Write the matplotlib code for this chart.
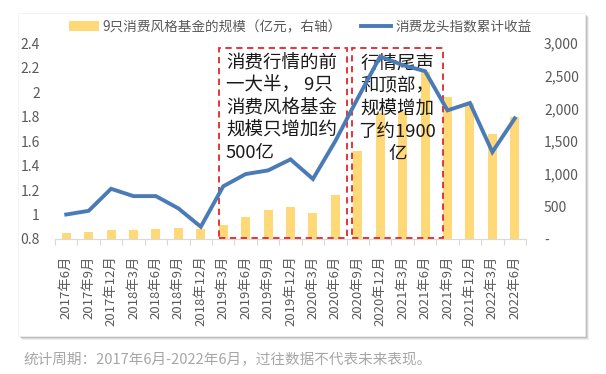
import numpy as np
import matplotlib
matplotlib.use('Agg')
import matplotlib.pyplot as plt
from matplotlib.patches import Rectangle, Patch
from matplotlib.lines import Line2D
from matplotlib.ticker import FuncFormatter, FixedLocator

plt.rcParams['font.family'] = ['Noto Sans CJK SC', 'DejaVu Sans']

# 数据
dates = ['2017年6月', '2017年9月', '2017年12月', '2018年3月', '2018年6月',
         '2018年9月', '2018年12月', '2019年3月', '2019年6月', '2019年9月',
         '2019年12月', '2020年3月', '2020年6月', '2020年9月', '2020年12月',
         '2021年3月', '2021年6月', '2021年9月', '2021年12月', '2022年3月',
         '2022年6月']
fund_size = [97, 107, 138, 143, 158, 173, 158, 219, 337, 444, 490, 403,
             666, 1345, 1930, 1950, 2560, 2168, 2086, 1610, 1870]
index_return = [1.00, 1.03, 1.21, 1.15, 1.15, 1.05, 0.90, 1.23, 1.33, 1.36,
                1.45, 1.29, 1.60, 1.95, 2.29, 2.22, 2.17, 1.85, 1.91, 1.51,
                1.785]

label_bar = '9只消费风格基金的规模（亿元，右轴）'
label_line = '消费龙头指数累计收益'
note1 = '消费行情的前\n一大半， 9只\n消费风格基金\n规模只增加约\n500亿'
note2 = '行情尾声\n和顶部，\n规模增加\n了约1900\n亿'
footnote = '统计周期：2017年6月-2022年6月，过往数据不代表未来表现。'

bar_color = '#ffd978'
line_color = '#4a7bb7'
red = '#e3262b'
grey = '#595959'

W, H = 606, 374
fig = plt.figure(figsize=(W / 100, H / 100), dpi=100)
fig.patch.set_facecolor('white')

# 图表外框 + 阴影
def px_rect(x0, y0, x1, y1, **kw):
    return Rectangle((x0 / W, 1 - y1 / H), (x1 - x0) / W, (y1 - y0) / H,
                     transform=fig.transFigure, zorder=-10, **kw)

for k, a in [(4, 0.12), (3, 0.2), (2, 0.3)]:
    fig.patches.append(px_rect(18 + k, 13 + k, 585 + k, 336 + k,
                               facecolor='#808080', edgecolor='none', alpha=a))
fig.patches.append(px_rect(18, 13, 585, 336, facecolor='white',
                           edgecolor='#f0f0f0', lw=0.5))

ax = fig.add_axes([55 / W, 1 - 239 / H, (526 - 55) / W, (239 - 43) / H])
ax2 = ax.twinx()
x = np.arange(len(dates))

ax2.bar(x, fund_size, width=0.4, color=bar_color, zorder=2)
ax.plot(x, index_return, color=line_color, lw=2.8, zorder=5,
        solid_joinstyle='miter')

ax.set_zorder(ax2.get_zorder() + 1)
ax.patch.set_visible(False)
ax2.patch.set_visible(False)

ax.set_xlim(-0.5, len(dates) - 0.5)
ax.set_ylim(0.8, 2.4)
ax2.set_ylim(0, 3000)

ax.set_yticks(np.arange(0.8, 2.41, 0.2))
ax.yaxis.set_major_formatter(FuncFormatter(lambda v, p: f'{round(v, 1):g}'))
ax2.set_yticks(np.arange(0, 3001, 500))
ax2.yaxis.set_major_formatter(
    FuncFormatter(lambda v, p: '-' if v == 0 else f'{int(v):,}'))

ax.set_xticks(x)
ax.set_xticklabels(dates, rotation=90, fontsize=9.5, color=grey)
ax.xaxis.set_minor_locator(FixedLocator(np.arange(-0.5, len(dates), 1)))
ax.tick_params(axis='x', which='major', length=0, pad=12)
ax.tick_params(axis='x', which='minor', length=4, color='#d9d9d9',
               width=0.8)
ax.tick_params(axis='y', length=0, labelsize=10, labelcolor=grey, pad=11)
ax2.tick_params(axis='y', length=0, labelsize=10, labelcolor=grey, pad=13)

for s in ['top', 'left', 'right']:
    ax.spines[s].set_visible(False)
    ax2.spines[s].set_visible(False)
ax2.spines['bottom'].set_visible(False)
ax.spines['bottom'].set_color('#d9d9d9')
ax.spines['bottom'].set_linewidth(0.8)

# 红色虚线框
def ax_rect(x0, y0, x1, y1):
    return Rectangle(((x0 - 55) / 471, (239 - y1) / 196),
                     (x1 - x0) / 471, (y1 - y0) / 196,
                     transform=ax.transAxes, fill=False, edgecolor=red,
                     lw=1.3, linestyle=(0, (3.5, 2.5)), clip_on=False,
                     zorder=3)

ax.add_patch(ax_rect(219, 48, 347, 238))
ax.add_patch(ax_rect(352, 48, 443, 238))

ax.text((226 - 55) / 471, (239 - 54) / 196, note1, transform=ax.transAxes,
        ha='left', va='top', fontsize=13.3, linespacing=1.33,
        color='#1a1a1a', zorder=4)
ax.text((397.5 - 55) / 471, (239 - 55) / 196, note2, transform=ax.transAxes,
        ha='center', va='top', fontsize=13.3, linespacing=1.33,
        multialignment='center', color='#1a1a1a', zorder=4)

handles = [Patch(facecolor=bar_color, edgecolor='none'),
           Line2D([], [], color=line_color, lw=2.8)]
fig.legend(handles, [label_bar, label_line], loc='center',
           bbox_to_anchor=(0.495, 1 - 27 / H), ncol=2, frameon=False,
           fontsize=9.8, handlelength=2.2, handleheight=0.7,
           columnspacing=1.4, handletextpad=0.3, labelcolor=grey)

fig.text(23 / W, 1 - 360 / H, footnote, ha='left', va='center',
         fontsize=10.5, color='#a6a6a6')

fig.savefig('out.png', dpi=100)
